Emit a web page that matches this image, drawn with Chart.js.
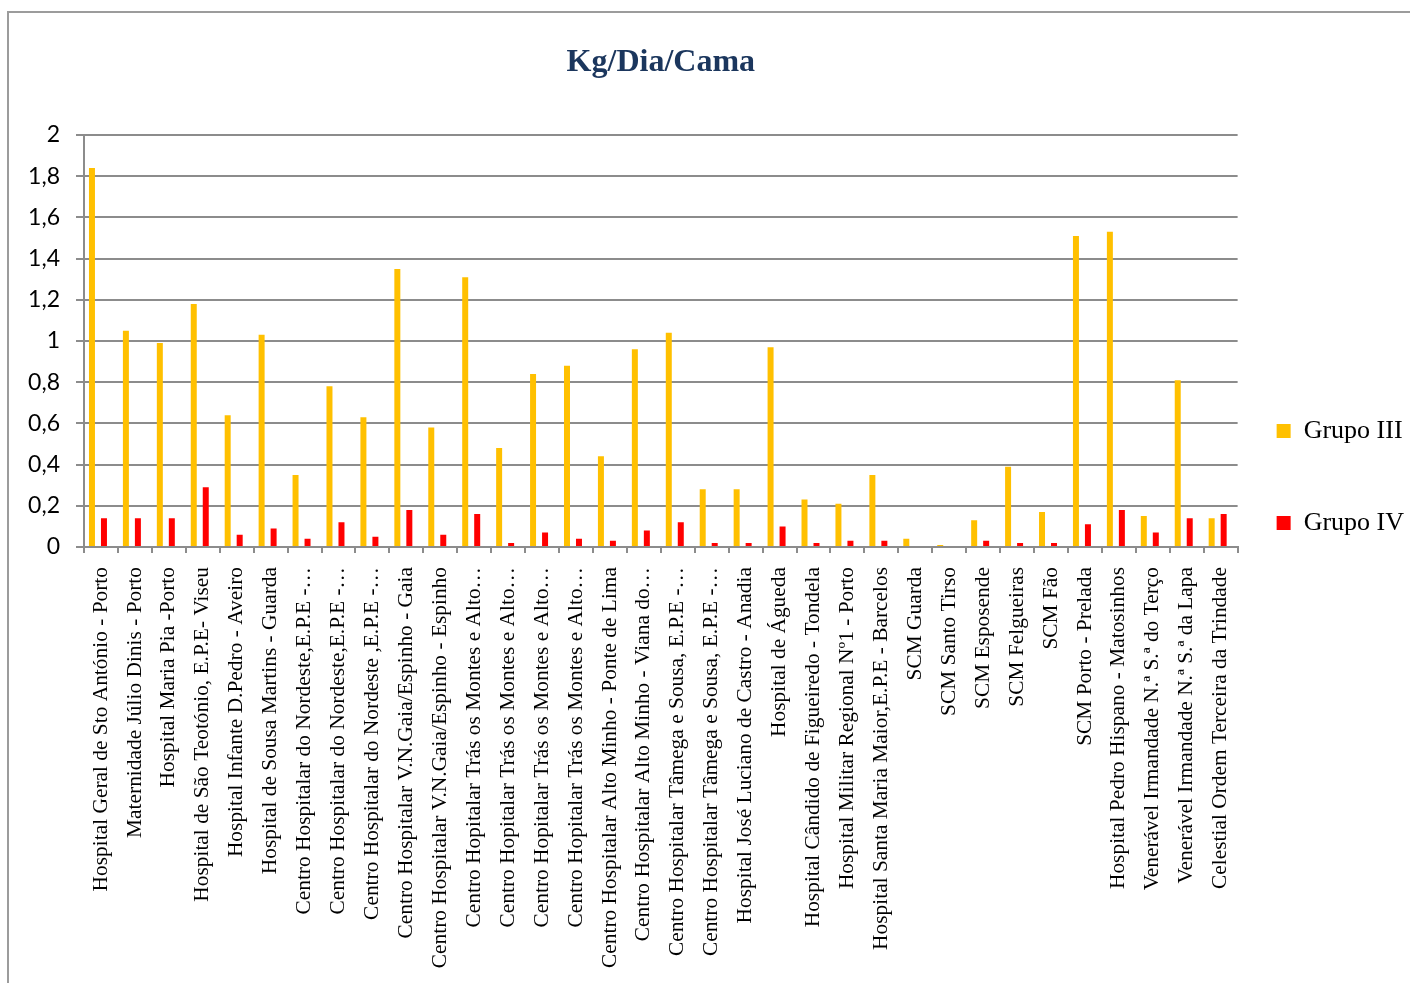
<!DOCTYPE html>
<html>
<head>
<meta charset="utf-8">
<script src="https://cdn.jsdelivr.net/npm/chart.js@4/dist/chart.umd.min.js"></script>
<style>
  html, body { margin: 0; padding: 0; background: #fff; overflow: hidden; width: 1410px; height: 983px; }
  #frame { position: absolute; left: 7px; top: 11px; width: 1430px; height: 1000px;
           border-top: 2px solid #9c9c9c; border-left: 2px solid #9c9c9c; background: #fff; }
  #c { display: block; }
</style>
</head>
<body>
<div id="frame"><canvas id="c" width="1405" height="970" style="width:1405px;height:970px"></canvas></div>
<script>
const categories = [
  "Hospital Geral de Sto António - Porto",
  "Maternidade Júlio Dinis - Porto",
  "Hospital Maria Pia -Porto",
  "Hospital de São Teotónio, E.P.E- Viseu",
  "Hospital Infante D.Pedro - Aveiro",
  "Hospital de Sousa Martins - Guarda",
  "Centro Hospitalar do Nordeste,E.P.E -…",
  "Centro Hospitalar do Nordeste,E.P.E -…",
  "Centro Hospitalar do Nordeste ,E.P.E -…",
  "Centro Hospitalar V.N.Gaia/Espinho - Gaia",
  "Centro Hospitalar V.N.Gaia/Espinho - Espinho",
  "Centro Hopitalar Trás os Montes e Alto…",
  "Centro Hopitalar Trás os Montes e Alto…",
  "Centro Hopitalar Trás os Montes e Alto…",
  "Centro Hopitalar Trás os Montes e Alto…",
  "Centro Hospitalar Alto Minho - Ponte de Lima",
  "Centro Hospitalar Alto Minho - Viana do…",
  "Centro Hospitalar Tâmega e Sousa, E.P.E -…",
  "Centro Hospitalar Tâmega e Sousa, E.P.E -…",
  "Hospital José Luciano de Castro - Anadia",
  "Hospital de Águeda",
  "Hospital Cândido de Figueiredo - Tondela",
  "Hospital Militar Regional Nº1 - Porto",
  "Hospital Santa Maria Maior,E.P.E - Barcelos",
  "SCM Guarda",
  "SCM Santo Tirso",
  "SCM Esposende",
  "SCM Felgueiras",
  "SCM Fão",
  "SCM Porto - Prelada",
  "Hospital Pedro Hispano - Matosinhos",
  "Venerável Irmandade N.ª S.ª do Terço",
  "Venerável Irmandade N.ª S.ª da Lapa",
  "Celestial Ordem Terceira da Trindade"
];
const grupoIII = [1.84, 1.05, 0.99, 1.18, 0.64, 1.03, 0.35, 0.78, 0.63, 1.35, 0.58, 1.31, 0.48, 0.84, 0.88, 0.44, 0.96, 1.04, 0.28, 0.28, 0.97, 0.23, 0.21, 0.35, 0.04, 0.01, 0.13, 0.39, 0.17, 1.51, 1.53, 0.15, 0.81, 0.14];
const grupoIV  = [0.14, 0.14, 0.14, 0.29, 0.06, 0.09, 0.04, 0.12, 0.05, 0.18, 0.06, 0.16, 0.02, 0.07, 0.04, 0.03, 0.08, 0.12, 0.02, 0.02, 0.10, 0.02, 0.03, 0.03, null, null, 0.03, 0.02, 0.02, 0.11, 0.18, 0.07, 0.14, 0.16];
const seriesNames = ["Grupo III", "Grupo IV"];
const yTickLabels = ["0", "0,2", "0,4", "0,6", "0,8", "1", "1,2", "1,4", "1,6", "1,8", "2"];
const chartTitle = "Kg/Dia/Cama";

const GRID = '#8c8c8c';
const spacer = new Array(categories.length).fill(null);

new Chart(document.getElementById('c'), {
  type: 'bar',
  data: {
    labels: categories,
    datasets: [
      { label: seriesNames[0], data: grupoIII, backgroundColor: '#FFC000', categoryPercentage: 0.707, barPercentage: 1.0 },
      { label: '_spacer1', data: spacer, backgroundColor: 'rgba(0,0,0,0)', categoryPercentage: 0.707, barPercentage: 1.0 },
      { label: seriesNames[1], data: grupoIV, backgroundColor: '#FF0000', categoryPercentage: 0.707, barPercentage: 1.0 },
      { label: '_spacer2', data: spacer, backgroundColor: 'rgba(0,0,0,0)', categoryPercentage: 0.707, barPercentage: 1.0 }
    ]
  },
  options: {
    responsive: false,
    animation: false,
    layout: { padding: 0 },
    plugins: {
      tooltip: { enabled: false },
      title: {
        display: true,
        text: chartTitle,
        fullSize: false,
        color: '#1b365d',
        font: { family: 'Liberation Serif', size: 32, weight: 'bold', lineHeight: 1.2 },
        padding: { top: 30.5, bottom: 53.1 }
      },
      legend: {
        display: true,
        position: 'right',
        align: 'start',
        title: { display: true, text: '', font: { size: 10, lineHeight: 1 }, padding: { top: 356, bottom: 0 } },
        labels: {
          color: '#000',
          font: { family: 'Liberation Serif', size: 26, lineHeight: 53 / 26 },
          boxWidth: 14,
          boxHeight: 14,
          padding: 39,
          generateLabels: (chart) => {
            const items = Chart.defaults.plugins.legend.labels.generateLabels(chart);
            return items.filter(it => !it.text.startsWith('_spacer')).map(it => Object.assign(it, { text: [it.text], lineWidth: 0 }));
          }
        }
      }
    },
    scales: {
      x: {
        offset: true,
        grid: { display: true, drawOnChartArea: false, drawTicks: true, tickLength: 6, offset: true, color: GRID, lineWidth: 2 },
        border: { display: true, color: GRID, width: 2 },
        ticks: {
          autoSkip: false, minRotation: 90, maxRotation: 90, padding: 14, color: '#000',
          font: { family: 'Liberation Serif', size: 21.4 }
        },
        afterFit: (s) => { s.height = 436; }
      },
      y: {
        min: 0, max: 2,
        grid: { color: GRID, lineWidth: 2, drawTicks: true, tickLength: 8 },
        border: { display: true, color: GRID, width: 2 },
        ticks: {
          stepSize: 0.2, padding: 16, color: '#000',
          font: { family: 'Lato', size: 23 },
          callback: (v, i) => yTickLabels[i]
        },
        afterFit: (s) => { s.width = 75; }
      }
    }
  }
});
</script>
</body>
</html>
